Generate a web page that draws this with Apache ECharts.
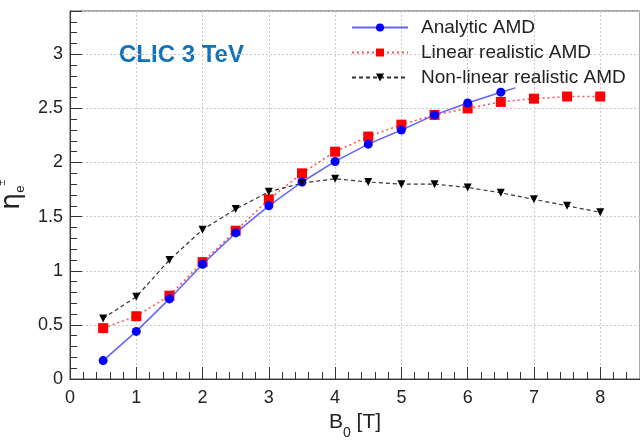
<!DOCTYPE html>
<html>
<head>
<meta charset="utf-8">
<script src="https://cdn.jsdelivr.net/npm/echarts@6/dist/echarts.min.js"></script>
<style>
  html, body { margin: 0; padding: 0; background: #fff; }
  #chart { width: 640px; height: 441px; }
</style>
</head>
<body>
<div id="chart"></div>
<script>
// B0 values [T]
const analyticB = [0.5, 1, 1.5, 2, 2.5, 3, 3.5, 4, 4.5, 5, 5.5, 6, 6.5]
const analyticEta = [0.17, 0.44, 0.74, 1.06, 1.35, 1.60, 1.82, 2.01, 2.17, 2.30, 2.44, 2.55, 2.65]
// the blue curve runs on a little past the last marker
const analyticTail = [6.72, 2.69]

const linearB = [0.5, 1, 1.5, 2, 2.5, 3, 3.5, 4, 4.5, 5, 5.5, 6, 6.5, 7, 7.5, 8]
const linearEta = [0.47, 0.58, 0.77, 1.08, 1.37, 1.66, 1.90, 2.10, 2.24, 2.35, 2.44, 2.50, 2.56, 2.59, 2.61, 2.61]

const nonlinearB = [0.5, 1, 1.5, 2, 2.5, 3, 3.5, 4, 4.5, 5, 5.5, 6, 6.5, 7, 7.5, 8]
const nonlinearEta = [0.56, 0.76, 1.10, 1.38, 1.57, 1.73, 1.81, 1.85, 1.82, 1.80, 1.80, 1.77, 1.72, 1.66, 1.60, 1.54]

const seriesNames = ['Analytic AMD', 'Linear realistic AMD', 'Non-linear realistic AMD']

const font = 'Liberation Sans, Arial, sans-serif'
const gridLine = { show: true, lineStyle: { color: '#c8c8c8', type: [2, 2], width: 1 } }

function pairs(xs, ys) {
  return xs.map((x, i) => [x, ys[i]])
}

const chart = echarts.init(document.getElementById('chart'))

const analyticData = pairs(analyticB, analyticEta)
analyticData.push({ value: analyticTail, symbol: 'none' })

chart.setOption({
  animation: false,
  backgroundColor: '#fff',
  textStyle: { fontFamily: font },
  grid: {
    left: 70, top: 11, right: 0, bottom: 62,
    outerBoundsMode: 'none', containLabel: false,
    show: true, borderColor: '#555', borderWidth: 1,
  },
  legend: {
    orient: 'vertical',
    left: 346,
    top: 13,
    itemWidth: 56,
    itemHeight: 10,
    itemGap: 6,
    data: seriesNames,
    textStyle: { fontFamily: font, fontSize: 19, color: '#222', padding: [0, 0, 0, 8] },
  },
  graphic: [{
    type: 'text',
    left: 119,
    top: 43,
    style: { text: 'CLIC 3 TeV', fontFamily: font, fontWeight: 'bold', fontSize: 24, fill: '#1272bb' },
  }],
  xAxis: {
    type: 'value',
    min: 0,
    max: 8.6,
    interval: 1,
    name: '{b|B}{s|0}{b| [T]}',
    nameLocation: 'middle',
    nameGap: 33,
    nameTextStyle: {
      rich: {
        b: { fontFamily: font, fontSize: 21, color: '#222', lineHeight: 24, verticalAlign: 'top' },
        s: { fontFamily: font, fontSize: 14, color: '#222', lineHeight: 14, verticalAlign: 'bottom', padding: [0, 0, -4, 0] },
      },
    },
    axisLine: { lineStyle: { color: '#333', width: 1 } },
    axisTick: { inside: true, length: 12, lineStyle: { color: '#333' } },
    minorTick: { show: true, splitNumber: 5, length: 7, lineStyle: { color: '#333' } },
    axisLabel: { fontSize: 18, color: '#222', margin: 10, showMaxLabel: false },
    splitLine: gridLine,
  },
  yAxis: {
    type: 'value',
    min: 0,
    max: 3.4,
    interval: 0.5,
    name: '{e|η}{s|e}{p|±}',
    nameLocation: 'middle',
    nameRotate: 90,
    nameGap: 40,
    nameTextStyle: {
      rich: {
        e: { fontFamily: 'DejaVu Sans', fontSize: 27, color: '#222', lineHeight: 30 },
        s: { fontFamily: font, fontSize: 13, color: '#222', lineHeight: 13, verticalAlign: 'bottom' },
        p: { fontFamily: font, fontSize: 10, color: '#222', lineHeight: 10, verticalAlign: 'top' },
      },
    },
    axisLine: { show: true, lineStyle: { color: '#333', width: 1 } },
    axisTick: { inside: true, length: 12, lineStyle: { color: '#333' } },
    minorTick: { show: true, splitNumber: 5, length: 7, lineStyle: { color: '#333' } },
    axisLabel: { fontSize: 18, color: '#222', margin: 7, showMaxLabel: false },
    splitLine: gridLine,
  },
  series: [
    {
      name: seriesNames[0],
      type: 'line',
      data: analyticData,
      symbol: 'circle',
      symbolSize: 9,
      itemStyle: { color: '#0000ff' },
      lineStyle: { color: 'rgba(70,70,255,0.85)', width: 1.5, type: 'solid' },
      z: 4,
    },
    {
      name: seriesNames[1],
      type: 'line',
      data: pairs(linearB, linearEta),
      symbol: 'rect',
      symbolSize: 10,
      itemStyle: { color: '#ff0000' },
      lineStyle: { color: 'rgba(255,60,60,0.9)', width: 1.5, type: [2, 3] },
      z: 3,
    },
    {
      name: seriesNames[2],
      type: 'line',
      data: pairs(nonlinearB, nonlinearEta),
      symbol: 'triangle',
      symbolRotate: 180,
      symbolSize: 8,
      itemStyle: { color: '#000' },
      lineStyle: { color: '#333', width: 1.2, type: [4, 3] },
      z: 5,
    },
  ],
})
</script>
</body>
</html>
